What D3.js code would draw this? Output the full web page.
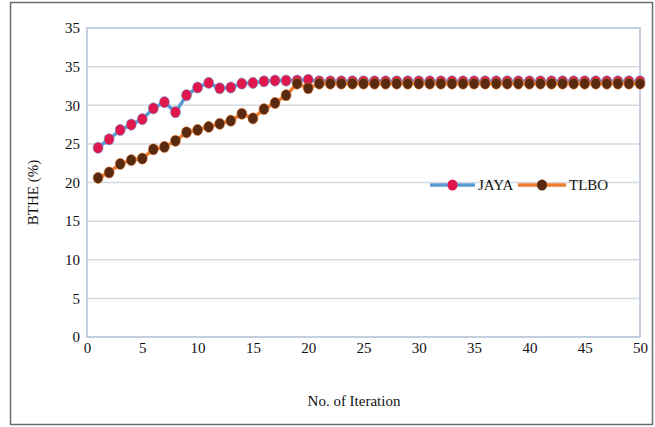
<!DOCTYPE html>
<html>
<head>
<meta charset="utf-8">
<script src="https://cdn.jsdelivr.net/npm/d3@7"></script>
<style>
  html, body { margin: 0; padding: 0; background: #fff; }
  svg { display: block; }
</style>
</head>
<body>
<svg id="chart" width="655" height="427"></svg>
<script>
// Iteration numbers 1..50
const iterations = [
  1, 2, 3, 4, 5, 6, 7, 8, 9, 10,
  11, 12, 13, 14, 15, 16, 17, 18, 19, 20,
  21, 22, 23, 24, 25, 26, 27, 28, 29, 30,
  31, 32, 33, 34, 35, 36, 37, 38, 39, 40,
  41, 42, 43, 44, 45, 46, 47, 48, 49, 50
];

// Brake thermal efficiency (%) per iteration
const jaya = [
  24.5, 25.6, 26.8, 27.5, 28.2, 29.6, 30.4, 29.1, 31.3, 32.3,
  32.9, 32.2, 32.3, 32.8, 32.9, 33.1, 33.2, 33.2, 33.2, 33.3,
  33.1, 33.1, 33.1, 33.1, 33.1, 33.1, 33.1, 33.1, 33.1, 33.1,
  33.1, 33.1, 33.1, 33.1, 33.1, 33.1, 33.1, 33.1, 33.1, 33.1,
  33.1, 33.1, 33.1, 33.1, 33.1, 33.1, 33.1, 33.1, 33.1, 33.1
];
const tlbo = [
  20.6, 21.3, 22.4, 22.9, 23.1, 24.3, 24.6, 25.4, 26.5, 26.8,
  27.2, 27.6, 28.0, 28.9, 28.3, 29.5, 30.3, 31.3, 32.8, 32.2,
  32.8, 32.8, 32.8, 32.8, 32.8, 32.8, 32.8, 32.8, 32.8, 32.8,
  32.8, 32.8, 32.8, 32.8, 32.8, 32.8, 32.8, 32.8, 32.8, 32.8,
  32.8, 32.8, 32.8, 32.8, 32.8, 32.8, 32.8, 32.8, 32.8, 32.8
];

// Axis ticks and their printed labels
const xTicks = [0, 5, 10, 15, 20, 25, 30, 35, 40, 45, 50];
const yTicks = [0, 5, 10, 15, 20, 25, 30, 35, 40];
const yTickLabels = ["0", "5", "10", "15", "20", "25", "30", "35", "35"];

const seriesNames = ["JAYA", "TLBO"];
const lineColors = ["#5b9bd5", "#ed7d31"];
const markerColors = ["#e0174c", "#5a2a10"];

const FONT = "'Liberation Serif', 'Times New Roman', Times, serif";
const svg = d3.select("#chart");
const plot = { left: 87, right: 640, top: 28, bottom: 337 };

// outer frame
svg.append("rect")
  .attr("x", 10.5).attr("y", 2.5)
  .attr("width", 642).attr("height", 422)
  .attr("fill", "#fff").attr("stroke", "#6b6b6b").attr("stroke-width", 1.5);

const x = d3.scaleLinear().domain([0, 50]).range([plot.left, plot.right]);
const y = d3.scaleLinear().domain([0, 40]).range([plot.bottom, plot.top]);

// gridlines
svg.append("g")
  .selectAll("line")
  .data(yTicks.filter(t => t > 0 && t < 40))
  .join("line")
  .attr("x1", plot.left).attr("x2", plot.right)
  .attr("y1", d => y(d)).attr("y2", d => y(d))
  .attr("stroke", "#d6d9dd").attr("stroke-width", 1.5);

// plot area border
svg.append("rect")
  .attr("x", plot.left).attr("y", plot.top)
  .attr("width", plot.right - plot.left).attr("height", plot.bottom - plot.top)
  .attr("fill", "none").attr("stroke", "#c3cfdc").attr("stroke-width", 2);

// y axis labels
const yAxis = d3.axisLeft(y).tickValues(yTicks)
  .tickFormat((d, i) => yTickLabels[i]).tickSize(0).tickPadding(7);
svg.append("g").attr("transform", `translate(${plot.left},0)`).call(yAxis)
  .attr("font-family", FONT).attr("font-size", 15)
  .call(g => g.select(".domain").remove())
  .selectAll("text").attr("fill", "#111");

// x axis labels
const xAxis = d3.axisBottom(x).tickValues(xTicks).tickSize(0).tickPadding(5);
svg.append("g").attr("transform", `translate(0,${plot.bottom})`).call(xAxis)
  .attr("font-family", FONT).attr("font-size", 15)
  .call(g => g.select(".domain").remove())
  .selectAll("text").attr("fill", "#111");

// axis titles
svg.append("text")
  .attr("transform", `translate(38,${(plot.top + plot.bottom) / 2 + 10}) rotate(-90)`)
  .attr("text-anchor", "middle")
  .attr("font-family", FONT).attr("font-size", 15).attr("fill", "#111")
  .text("BTHE (%)");
svg.append("text")
  .attr("x", 354).attr("y", 406)
  .attr("text-anchor", "middle")
  .attr("font-family", FONT).attr("font-size", 15).attr("fill", "#111")
  .text("No. of Iteration");

// series
const line = d3.line().x(d => x(d[0])).y(d => y(d[1]));
[jaya, tlbo].forEach((vals, s) => {
  const pts = iterations.map((it, i) => [it, vals[i]]);
  const g = svg.append("g");
  g.append("path").datum(pts)
    .attr("d", line).attr("fill", "none")
    .attr("stroke", lineColors[s]).attr("stroke-width", 3.5)
    .attr("stroke-linejoin", "round");
  g.selectAll("ellipse").data(pts).join("ellipse")
    .attr("cx", d => x(d[0])).attr("cy", d => y(d[1]))
    .attr("rx", 5).attr("ry", 5.6)
    .attr("fill", markerColors[s])
    .attr("stroke", lineColors[s]).attr("stroke-opacity", 0.55).attr("stroke-width", 1);
});

// legend
const legend = svg.append("g").attr("transform", "translate(430,185)");
const legendItems = [
  { name: seriesNames[0], x0: 0, len: 45 },
  { name: seriesNames[1], x0: 88, len: 48 }
];
legendItems.forEach((it, s) => {
  legend.append("line")
    .attr("x1", it.x0).attr("x2", it.x0 + it.len)
    .attr("y1", 0).attr("y2", 0)
    .attr("stroke", lineColors[s]).attr("stroke-width", 3.5);
  legend.append("ellipse")
    .attr("cx", it.x0 + it.len / 2).attr("cy", 0)
    .attr("rx", 5).attr("ry", 5.6).attr("fill", markerColors[s]);
  legend.append("text")
    .attr("x", it.x0 + it.len + 3).attr("y", 5)
    .attr("font-family", FONT).attr("font-size", 15).attr("fill", "#111")
    .text(it.name);
});
</script>
</body>
</html>
